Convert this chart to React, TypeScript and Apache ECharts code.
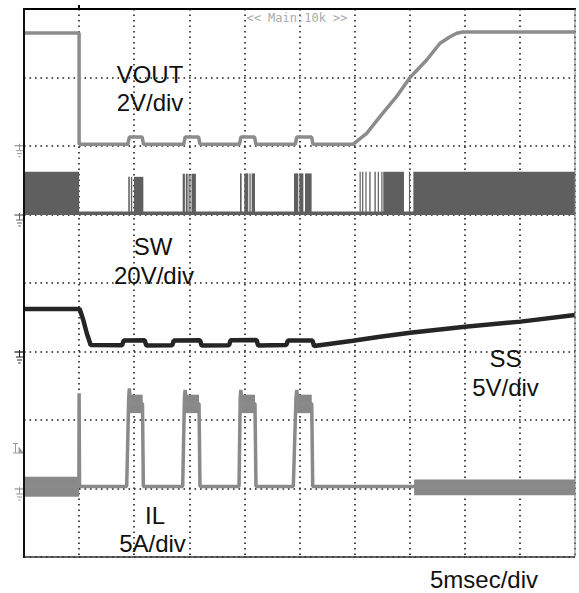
import React, { useEffect, useRef } from "react";
import * as echarts from "echarts";

// ---- Data (time in ms, 5 ms/div; each channel in its own unit) ----
const timeTicks = [0, 5, 10, 15, 20, 25, 30, 35, 40, 45, 50];

// VOUT (V), 2 V/div
const voutData: number[][] = [
  [0, 3.3], [5.0, 3.3], [5.0, 0.05],
  [9.42, 0.05], [9.56, 0.26], [10.72, 0.26], [10.85, 0.05],
  [14.5, 0.05], [14.62, 0.26], [15.85, 0.26], [15.97, 0.05],
  [19.55, 0.05], [19.68, 0.26], [20.92, 0.26], [21.05, 0.05],
  [24.62, 0.05], [24.75, 0.26], [26.1, 0.26], [26.22, 0.05],
  [29.85, 0.05], [31.1, 0.37], [32.3, 0.86], [33.8, 1.44], [35.03, 2.0],
  [36.54, 2.51], [37.75, 3.0], [38.66, 3.19], [39.26, 3.29], [39.8, 3.33], [50, 3.33],
];

// SW (V), 20 V/div : idle level and switching bursts [start ms, end ms, peak V]
const swIdle: number[][] = [[0, 0.4], [50, 0.4]];
const swLow = 0.2;
const swBursts: number[][] = [
  [0, 5.0, 12.5],
  [9.46, 9.6, 11.0], [9.7, 9.82, 11.0], [9.98, 10.83, 11.0],
  [14.4, 14.6, 11.9], [14.68, 14.75, 11.9], [14.82, 14.9, 11.9], [15.0, 15.08, 11.6], [15.2, 15.6, 11.9],
  [19.6, 19.75, 12.0], [19.99, 20.35, 12.0], [20.45, 20.57, 12.0], [20.66, 20.96, 12.0],
  [24.5, 24.89, 12.0], [24.98, 25.35, 12.0], [25.5, 26.1, 12.0],
  [30.45, 30.55, 12.5], [30.68, 30.78, 12.5], [30.98, 31.08, 12.5], [31.33, 31.45, 12.5],
  [31.8, 31.92, 12.5], [32.1, 32.2, 12.5], [32.42, 32.52, 12.5],
  [32.6, 34.48, 12.5], [34.93, 35.02, 12.5], [35.33, 50, 12.5],
];

// SS (V), 5 V/div
const ssData: number[][] = [
  [0, 3.1], [5.05, 3.1], [5.38, 2.3], [5.69, 1.35], [6.05, 0.47],
  [8.9, 0.45], [9.05, 0.8], [10.95, 0.82], [11.1, 0.43],
  [13.45, 0.45], [13.6, 0.8], [15.98, 0.82], [16.12, 0.43],
  [18.6, 0.45], [18.75, 0.82], [21.1, 0.84], [21.25, 0.43],
  [23.8, 0.47], [23.95, 0.8], [26.18, 0.8], [26.32, 0.4],
  [29.85, 0.78], [32.3, 1.08], [35.03, 1.37], [40.02, 1.81], [45.07, 2.18], [50, 2.66],
];

// IL (A), 5 A/div
const ilData: number[][] = [
  [0, 0.15], [4.98, 0.15], [5.0, 6.95], [5.04, 0.15],
  [9.32, 0.15], [9.5, 6.6], [9.56, 7.3], [9.68, 6.2], [10.75, 6.2], [10.83, 0.15],
  [14.4, 0.15], [14.56, 6.6], [14.62, 7.2], [14.75, 6.2], [15.88, 6.2], [15.97, 0.15],
  [19.51, 0.15], [19.62, 6.6], [19.68, 7.2], [19.8, 6.2], [20.96, 6.2], [21.05, 0.15],
  [24.44, 0.15], [24.68, 6.6], [24.75, 7.2], [24.88, 6.2], [26.11, 6.2], [26.2, 0.15],
  [50, 0.15],
];
// IL ripple envelopes [start ms, end ms, min A, max A]
const ilRipple: number[][] = [
  [0, 5.0, -0.6, 0.85],
  [9.6, 10.77, 5.5, 6.85], [14.65, 15.88, 5.5, 6.85], [19.7, 20.96, 5.5, 6.85], [24.78, 26.11, 5.5, 6.85],
  [35.4, 50, -0.5, 0.65],
];

const FONT = '"Liberation Sans", Arial, Helvetica, sans-serif';

function rectRender(color: string) {
  return (params: any, api: any) => {
    const a = api.coord([api.value(0), api.value(3)]);
    const b = api.coord([api.value(1), api.value(2)]);
    return {
      type: "rect",
      shape: { x: a[0], y: a[1], width: Math.max(b[0] - a[0], 1.2), height: b[1] - a[1] },
      style: { fill: color },
    };
  };
}

function ground(y: number, color: string) {
  const s = { stroke: color, lineWidth: 1 };
  return {
    type: "group",
    z: 100,
    children: [
      { type: "line", shape: { x1: 14.5, y1: y, x2: 24, y2: y }, style: { ...s, lineWidth: 1.3 } },
      { type: "line", shape: { x1: 19.5, y1: y - 2, x2: 19.5, y2: y + 5 }, style: s },
      { type: "line", shape: { x1: 16, y1: y + 5, x2: 23, y2: y + 5 }, style: s },
      { type: "line", shape: { x1: 17, y1: y + 8, x2: 22, y2: y + 8 }, style: s },
      { type: "line", shape: { x1: 18.3, y1: y + 11, x2: 20.7, y2: y + 11 }, style: s },
    ],
  };
}

function label(text: string, x: number, y: number) {
  return {
    type: "text",
    z: 100,
    x,
    y,
    style: { text, fill: "#111", font: `24px ${FONT}`, align: "center", verticalAlign: "middle" },
  };
}

const dotted = { show: true, lineStyle: { type: [1.6, 3.9], color: "#1e1e1e", width: 1.6 } };

const option: any = {
  animation: false,
  backgroundColor: "#fff",
  grid: { left: 24, top: 9, width: 551, height: 548, containLabel: false },
  xAxis: {
    type: "value",
    min: timeTicks[0],
    max: timeTicks[timeTicks.length - 1],
    interval: timeTicks[1] - timeTicks[0],
    axisLine: { show: false },
    axisTick: { show: false },
    axisLabel: { show: false },
    splitLine: dotted,
  },
  yAxis: [
    { type: "value", min: 0, max: 8, interval: 1, axisLine: { show: false }, axisTick: { show: false }, axisLabel: { show: false }, splitLine: dotted },
    { type: "value", min: -12, max: 4, show: false, splitLine: { show: false } },
    { type: "value", min: -100, max: 60, show: false, splitLine: { show: false } },
    { type: "value", min: -15, max: 25, show: false, splitLine: { show: false } },
    { type: "value", min: -5, max: 35, show: false, splitLine: { show: false } },
  ],
  series: [
    {
      name: "SW", type: "line", yAxisIndex: 2, data: swIdle, symbol: "none",
      lineStyle: { color: "#5f5f5f", width: 3.5 },
    },
    {
      name: "SW bursts", type: "custom", yAxisIndex: 2,
      data: swBursts.map((b) => [b[0], b[1], swLow, b[2]]),
      encode: { x: [0, 1], y: [2, 3] },
      renderItem: rectRender("#5f5f5f"),
    },
    {
      name: "IL ripple", type: "custom", yAxisIndex: 4, data: ilRipple,
      encode: { x: [0, 1], y: [2, 3] },
      renderItem: rectRender("#888888"),
    },
    {
      name: "IL", type: "line", yAxisIndex: 4, data: ilData, symbol: "none",
      lineStyle: { color: "#8a8a8a", width: 3.5 },
    },
    {
      name: "VOUT", type: "line", yAxisIndex: 1, data: voutData, symbol: "none",
      lineStyle: { color: "#8c8c8c", width: 3.5 },
    },
    {
      name: "SS", type: "line", yAxisIndex: 3, data: ssData, symbol: "none",
      lineStyle: { color: "#252525", width: 4.5 },
    },
  ],
  graphic: [
    // frame
    { type: "line", z: 100, shape: { x1: 24, y1: 9, x2: 576, y2: 9 }, style: { stroke: "#000", lineWidth: 2 } },
    { type: "line", z: 100, shape: { x1: 24, y1: 8, x2: 24, y2: 558 }, style: { stroke: "#111", lineWidth: 2 } },
    { type: "line", z: 100, shape: { x1: 575, y1: 9, x2: 575, y2: 557 }, style: { stroke: "#808080", lineWidth: 1 } },
    { type: "line", z: 100, shape: { x1: 24, y1: 557, x2: 575, y2: 557 }, style: { stroke: "#333", lineWidth: 1.5 } },
    // trigger position mark
    { type: "rect", z: 100, shape: { x: 78, y: 5, width: 2, height: 4 }, style: { fill: "#000" } },
    {
      type: "text", z: 100, x: 297, y: 18,
      style: { text: "<< Main:10k >>", fill: "#aaaaaa", font: '12px "DejaVu Sans Mono", monospace', align: "center", verticalAlign: "middle" },
    },
    // channel ground markers
    ground(145.7, "#999"),
    ground(215, "#666"),
    ground(352, "#222"),
    ground(489, "#999"),
    // IL trigger level marker
    {
      type: "group", z: 100,
      children: [
        { type: "line", shape: { x1: 13, y1: 443.5, x2: 18, y2: 443.5 }, style: { stroke: "#999", lineWidth: 1 } },
        { type: "line", shape: { x1: 15.5, y1: 443.5, x2: 15.5, y2: 453 }, style: { stroke: "#999", lineWidth: 1 } },
        { type: "line", shape: { x1: 13, y1: 453, x2: 24, y2: 453 }, style: { stroke: "#999", lineWidth: 1 } },
        { type: "polygon", shape: { points: [[18.5, 446.5], [24, 453], [18.5, 453]] }, style: { fill: "#999" } },
      ],
    },
    // labels
    label("VOUT", 150, 74),
    label("2V/div", 150, 102),
    label("SW", 153, 246.5),
    label("20V/div", 154, 275),
    label("SS", 505.5, 358),
    label("5V/div", 505.5, 387),
    label("IL", 155, 515),
    label("5A/div", 152.5, 543),
    label("5msec/div", 484, 579),
  ],
};

export default function App() {
  const ref = useRef<HTMLDivElement>(null);
  useEffect(() => {
    const chart = echarts.init(ref.current!, null, { renderer: "svg" });
    chart.setOption(option);
    return () => chart.dispose();
  }, []);
  return (
    <div
      ref={ref}
      style={{ position: "fixed", left: 0, top: 0, width: 579, height: 593, background: "#fff" }}
    />
  );
}
